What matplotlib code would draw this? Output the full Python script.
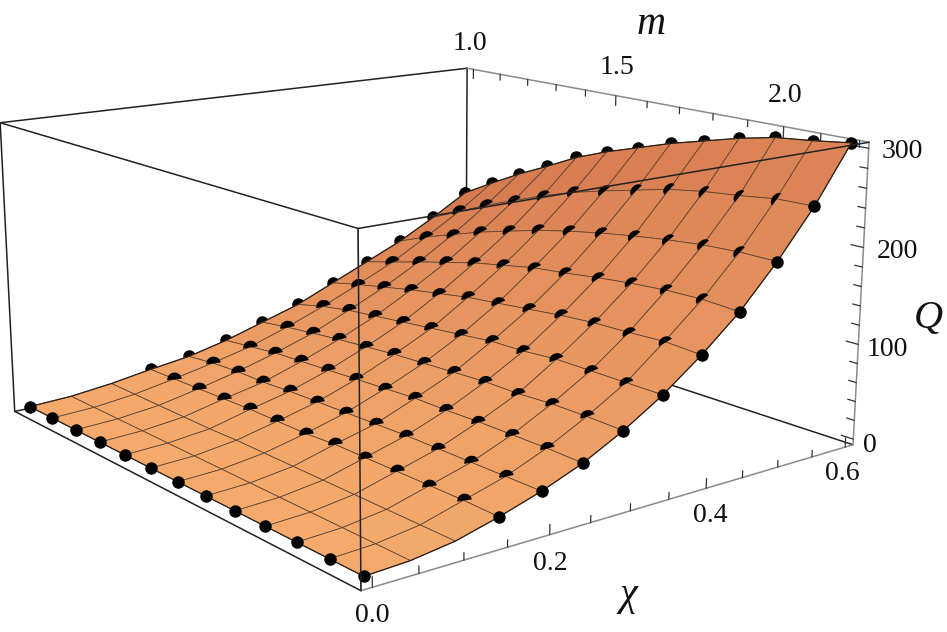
import numpy as np
import matplotlib
matplotlib.use('Agg')
import matplotlib.pyplot as plt
from matplotlib.markers import MarkerStyle
from matplotlib.transforms import Affine2D

W, H = 947, 632

chi_vals = [0.0, 0.05, 0.10, 0.15, 0.20, 0.25, 0.30, 0.35, 0.40, 0.45, 0.50, 0.55, 0.60]
m_vals = [1.0, 1.1, 1.2, 1.3, 1.4, 1.5, 1.6, 1.7, 1.8, 1.9, 2.0, 2.1, 2.2]

# Q, one row per chi, columns follow m_vals
q_000 = [0, 0, 0, 0, 0, 0, 0, 0, 0, 0, 0, 0, 0]
q_005 = [2, 2, 2, 2, 2, 2, 2, 2, 2, 2, 2, 2, 2]
q_010 = [7, 7, 7, 7, 7, 8, 8, 8, 8, 8, 8, 8, 8]
q_015 = [14, 15, 16, 17, 18, 18, 18, 20, 20, 20, 20, 20, 19]
q_020 = [20, 24, 26, 26, 28, 29, 30, 31, 32, 32, 32, 32, 32]
q_025 = [30, 34, 38, 40, 42, 44, 46, 48, 48, 49, 49, 49, 48]
q_030 = [43, 48, 52, 56, 59, 62, 64, 66, 68, 68, 70, 70, 69]
q_035 = [56, 64, 70, 74, 78, 82, 86, 90, 91, 94, 94, 94, 94]
q_040 = [74, 82, 89, 96, 102, 108, 112, 116, 120, 123, 124, 126, 124]
q_045 = [92, 101, 111, 120, 129, 136, 143, 147, 152, 156, 159, 160, 158]
q_050 = [110, 124, 136, 148, 158, 168, 176, 183, 189, 194, 198, 200, 200]
q_055 = [132, 148, 164, 178, 192, 204, 214, 223, 232, 238, 242, 247, 248]
q_060 = [156, 176, 195, 212, 230, 244, 256, 268, 278, 288, 296, 300, 305]

chi_major = [0.0, 0.2, 0.4, 0.6]
chi_minor = [0.05, 0.10, 0.15, 0.25, 0.30, 0.35, 0.45, 0.50, 0.55]
m_major = [1.0, 1.5, 2.0]
m_minor = [1.1, 1.2, 1.3, 1.4, 1.6, 1.7, 1.8, 1.9, 2.1, 2.2]
q_major = [0, 100, 200, 300]
q_minor = [20, 40, 60, 80, 120, 140, 160, 180, 220, 240, 260, 280]

chi_lo, chi_hi = -0.012, 0.612
m_lo, m_hi = 0.976, 2.224
q_lo, q_hi = -6, 306

Q = np.array([q_000, q_005, q_010, q_015, q_020, q_025, q_030, q_035, q_040, q_045, q_050, q_055, q_060], dtype=float)
chi = np.array(chi_vals)
m = np.array(m_vals)
C, M = np.meshgrid(chi, m, indexing='ij')

# fitted against the box corners of the picture
scale, cx, cy = 4785.88, 423.55, 282.60
side = scale * 0.185
left = cx - 0.095 * scale
bottom = cy + 0.095 * scale

fig = plt.figure(figsize=(W / 100, H / 100), dpi=100)
ax = fig.add_axes([left / W, (H - bottom) / H, side / W, side / H], projection='3d', computed_zorder=False)
ax.set_axis_off()
ax.patch.set_alpha(0)
ax.view_init(elev=14.2673, azim=-127.949)
ax.set_proj_type('persp', focal_length=0.438)
ax.set_box_aspect((1.1841, 1.1918, 0.5955))

dark = '#222222'
grey = '#8a8a8a'
mesh = '#5a4030'
tickc = '#333333'


def seg(a, b, color, lw=1.1, z=1):
    ax.plot([a[0], b[0]], [a[1], b[1]], [a[2], b[2]], color=color, lw=lw, zorder=z,
            solid_capstyle='round', clip_on=False)


# box behind the surface
seg((chi_hi, m_lo, q_hi), (chi_hi, m_lo, q_lo), dark, z=1)
seg((chi_hi, m_lo, q_lo), (chi_hi, m_hi, q_lo), dark, z=1)
seg((chi_lo, m_lo, q_lo), (chi_hi, m_lo, q_lo), dark, z=1)
seg((chi_lo, m_lo, q_hi), (chi_hi, m_lo, q_hi), dark, z=1)
seg((chi_lo, m_lo, q_hi), (chi_lo, m_lo, q_lo), dark, z=1)
seg((chi_lo, m_lo, q_lo), (chi_lo, m_hi, q_lo), dark, z=1)
seg((chi_lo, m_lo, q_hi), (chi_lo, m_hi, q_hi), dark, z=1)
seg((chi_hi, m_lo, q_hi), (chi_hi, m_hi, q_hi), grey, z=1)
seg((chi_hi, m_hi, q_hi), (chi_hi, m_hi, q_lo), grey, z=1)
seg((chi_lo, m_hi, q_lo), (chi_hi, m_hi, q_lo), grey, z=1)
seg((chi_lo, m_hi, q_hi), (chi_lo, m_hi, q_lo), grey, z=1)

# ticks
for c in chi_major + chi_minor:
    seg((c, m_hi, q_lo), (c, m_hi, q_lo + (10 if c in chi_major else 7)), tickc, 0.9, 1)
for v in m_major + m_minor:
    seg((chi_hi, v, q_hi), (chi_hi, v, q_hi - (11 if v in m_major else 7)), tickc, 0.9, 1)
for v in q_major + q_minor:
    seg((chi_hi, m_hi, v), (chi_hi, m_hi - (0.032 if v in q_major else 0.02), v), tickc, 0.9, 1)

# dots on the far edges sit behind the surface, only their top shows
for i in range(3, 13):
    ax.plot([chi[i]], [m[0]], [Q[i, 0]], 'o', color='k', ms=9, mew=0, zorder=2)
for j in range(13):
    ax.plot([chi[12]], [m[j]], [Q[12, j]], 'o', color='k', ms=9, mew=0, zorder=2, clip_on=False)

# surface, darker towards high chi and low m
t = (C / 0.6) ** 1.6 * (1.15 - 0.25 * (M - 1.0) / 1.2)
c0 = np.array([245, 170, 108]) / 255
c1 = np.array([209, 116, 76]) / 255
t = np.clip(t / 1.15, 0, 1)[:-1, :-1, None]
fc = np.concatenate([c0 + (c1 - c0) * t, np.ones_like(t)], axis=2)
ax.plot_surface(C, M, Q, facecolors=fc, edgecolor=mesh, linewidth=0.55, shade=False,
                rstride=1, cstride=1, antialiased=True, zorder=3)
for xs, ys, zs in [(C[0], M[0], Q[0]), (C[-1], M[-1], Q[-1]), (C[:, 0], M[:, 0], Q[:, 0]), (C[:, -1], M[:, -1], Q[:, -1])]:
    ax.plot(xs, ys, zs, color='#2a2018', lw=0.9, zorder=3.5, clip_on=False)

# dots half sunk in the surface
for i in range(3, 12):
    for j in range(1, 12):
        a = 60 * (chi[i] / 0.6) ** 2 * (0.4 + 0.6 * (m[j] - 1.0) / 1.2) + 5
        f = 1 - 0.4 * a / 60
        mk = MarkerStyle('o', fillstyle='top', transform=Affine2D().scale(1, f).rotate_deg(a))
        ax.plot([chi[i]], [m[j]], [Q[i, j]], marker=mk, color='k', ms=10.5, mew=0, ls='none', zorder=4)

# near edges, full dots
for j in range(13):
    ax.plot([chi[0]], [m[j]], [Q[0, j]], 'o', color='k', ms=9, mew=0, zorder=4)
for i in range(3, 12):
    ax.plot([chi[i]], [m[12]], [Q[i, 12]], 'o', color='k', ms=9, mew=0, zorder=4)

# box in front of the surface
seg((chi_lo, m_hi, q_lo), (chi_lo, m_hi, q_hi), dark, 1.1, 5)
seg((chi_lo, m_hi, q_hi), (chi_hi, m_hi, q_hi), dark, 1.1, 5)

ax.set_xlim(chi_lo, chi_hi)
ax.set_ylim(m_hi, m_lo)
ax.set_zlim(q_lo, q_hi)


def label(x, y, s, size=20, style='normal'):
    fig.text(x / W, 1 - y / H, s, ha='center', va='center', family='Liberation Serif',
             fontsize=size, style=style, color='#111111')


label(372, 615, '0.0')
label(550, 563, '0.2')
label(710, 515, '0.4')
label(842, 473, '0.6')
label(470, 43, '1.0')
label(617, 68, '1.5')
label(785, 96, '2.0')
label(870, 446, '0')
label(887, 350, '100')
label(897, 252, '200')
label(902, 152, '300')
label(651, 25, 'm', 29, 'italic')
label(628, 595, '\u03c7', 29, 'italic')
label(928, 318, 'Q', 29, 'italic')

fig.savefig('out.png', dpi=100)
